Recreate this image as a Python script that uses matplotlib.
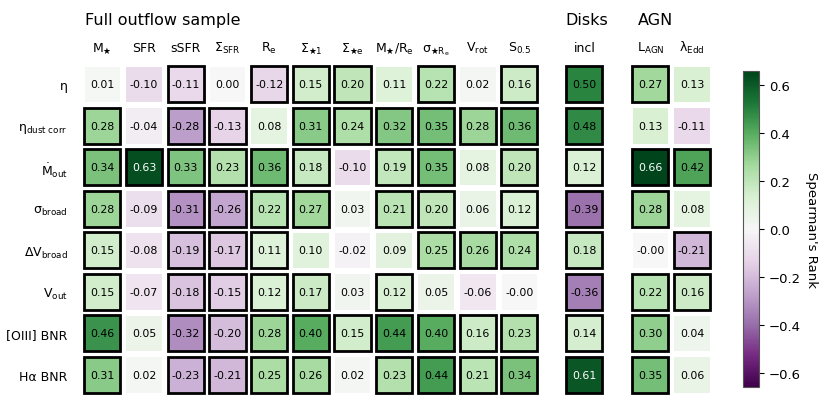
import numpy as np
import matplotlib
matplotlib.use("Agg")
import matplotlib.pyplot as plt
from matplotlib.patches import Rectangle
from matplotlib.colors import Normalize

row_labels = ['η', r'η$_{\rm dust\ corr}$', r'$\dot{\rm M}_{\rm out}$', r'σ$_{\rm broad}$',
              r'ΔV$_{\rm broad}$', r'V$_{\rm out}$', '[OIII] BNR', 'Hα BNR']

full_cols = [r'M$_\bigstar$', 'SFR', 'sSFR', r'$\Sigma_{\rm SFR}$', r'R$_{\rm e}$',
             r'$\Sigma_{\bigstar 1}$', r'$\Sigma_{\bigstar \rm e}$', r'M$_\bigstar$/R$_{\rm e}$',
             r'σ$_{\bigstar \rm R_e}$', r'V$_{\rm rot}$', r'S$_{0.5}$']
disk_cols = ['incl']
agn_cols = [r'L$_{\rm AGN}$', r'λ$_{\rm Edd}$']

full_vals = [
    [0.01, -0.10, -0.11, 0.00, -0.12, 0.15, 0.20, 0.11, 0.22, 0.02, 0.16],
    [0.28, -0.04, -0.28, -0.13, 0.08, 0.31, 0.24, 0.32, 0.35, 0.28, 0.36],
    [0.34, 0.63, 0.33, 0.23, 0.36, 0.18, -0.10, 0.19, 0.35, 0.08, 0.20],
    [0.28, -0.09, -0.31, -0.26, 0.22, 0.27, 0.03, 0.21, 0.20, 0.06, 0.12],
    [0.15, -0.08, -0.19, -0.17, 0.11, 0.10, -0.02, 0.09, 0.25, 0.26, 0.24],
    [0.15, -0.07, -0.18, -0.15, 0.12, 0.17, 0.03, 0.12, 0.05, -0.06, -0.0],
    [0.46, 0.05, -0.32, -0.20, 0.28, 0.40, 0.15, 0.44, 0.40, 0.16, 0.23],
    [0.31, 0.02, -0.23, -0.21, 0.25, 0.26, 0.02, 0.23, 0.44, 0.21, 0.34],
]
full_sig = [
    [0, 0, 1, 0, 1, 1, 1, 0, 1, 0, 1],
    [1, 0, 1, 1, 0, 1, 1, 1, 1, 1, 1],
    [1, 1, 1, 1, 1, 1, 0, 1, 1, 0, 1],
    [1, 0, 1, 1, 1, 1, 0, 1, 1, 0, 1],
    [1, 0, 1, 1, 1, 0, 0, 0, 1, 1, 1],
    [1, 0, 1, 1, 1, 1, 0, 1, 0, 0, 0],
    [1, 0, 1, 1, 1, 1, 1, 1, 1, 1, 1],
    [1, 0, 1, 1, 1, 1, 0, 1, 1, 1, 1],
]
disk_vals = [[0.50], [0.48], [0.12], [-0.39], [0.18], [-0.36], [0.14], [0.61]]
disk_sig = [[1], [1], [1], [1], [1], [1], [1], [1]]
agn_vals = [[0.27, 0.13], [0.13, -0.11], [0.66, 0.42], [0.28, 0.08],
            [-0.0, -0.21], [0.22, 0.16], [0.30, 0.04], [0.35, 0.06]]
agn_sig = [[1, 0], [0, 0], [1, 1], [1, 0], [0, 1], [1, 1], [1, 0], [1, 0]]

cbar_ticks = [-0.6, -0.4, -0.2, 0.0, 0.2, 0.4, 0.6]

W, H = 830, 402
fig = plt.figure(figsize=(W / 100, H / 100), dpi=100)
cmap = plt.get_cmap('PRGn')
norm = Normalize(vmin=-0.66, vmax=0.66)

pitch_x = 41.7
top_px, bot_px = 64.5, 396.5


def make_ax(left_px, ncols):
    right_px = left_px + ncols * pitch_x
    return fig.add_axes([left_px / W, 1 - bot_px / H, (right_px - left_px) / W,
                         (bot_px - top_px) / H])


def draw(ax, vals, sig, cols, show_rows):
    v = np.array(vals, dtype=float)
    s = np.array(sig)
    nr, nc = v.shape
    mesh = ax.pcolormesh(np.arange(nc + 1), np.arange(nr + 1), v, cmap=cmap, norm=norm,
                         edgecolors='white', linewidth=4)
    g = 0.065
    for i in range(nr):
        for j in range(nc):
            val = v[i, j]
            col = 'white' if abs(val) >= 0.55 else 'black'
            ax.text(j + 0.5, i + 0.5, f"{val:.2f}", ha='center', va='center',
                    fontsize=7.9, color=col)
            if s[i, j]:
                ax.add_patch(Rectangle((j + g, i + g), 1 - 2 * g, 1 - 2 * g, fill=False,
                                       edgecolor='black', linewidth=2, zorder=3))
    ax.set_xlim(0, nc)
    ax.set_ylim(nr, 0)
    ax.xaxis.tick_top()
    ax.set_xticks(np.arange(nc) + 0.5)
    ax.set_xticklabels(cols, fontsize=9)
    for t in ax.get_xticklabels():
        t.set_va('baseline')
    ax.tick_params(axis='x', length=0, pad=9)
    if show_rows:
        ax.set_yticks(np.arange(nr) + 0.5)
        ax.set_yticklabels(row_labels, fontsize=9)
        ax.tick_params(axis='y', length=0, pad=10)
    else:
        ax.set_yticks([])
    for sp in ax.spines.values():
        sp.set_visible(False)
    return mesh


ax1 = make_ax(81.5, len(full_cols))
mesh = draw(ax1, full_vals, full_sig, full_cols, True)
ax2 = make_ax(563.5, len(disk_cols))
draw(ax2, disk_vals, disk_sig, disk_cols, False)
ax3 = make_ax(629.5, len(agn_cols))
draw(ax3, agn_vals, agn_sig, agn_cols, False)

fig.text(85 / W, 1 - 25 / H, 'Full outflow sample', fontsize=11.5, va='baseline', ha='left')
fig.text(565 / W, 1 - 25 / H, 'Disks', fontsize=11.5, va='baseline', ha='left')
fig.text(638 / W, 1 - 25 / H, 'AGN', fontsize=11.5, va='baseline', ha='left')

cax = fig.add_axes([743 / W, 1 - 388 / H, 16 / W, 316 / H])
cb = fig.colorbar(mesh, cax=cax, ticks=cbar_ticks)
cb.ax.tick_params(labelsize=9.5)
cb.outline.set_edgecolor('#555555')
cb.set_label("Spearman's Rank", rotation=270, fontsize=9.5, labelpad=12)

fig.savefig('out.png', dpi=100)
